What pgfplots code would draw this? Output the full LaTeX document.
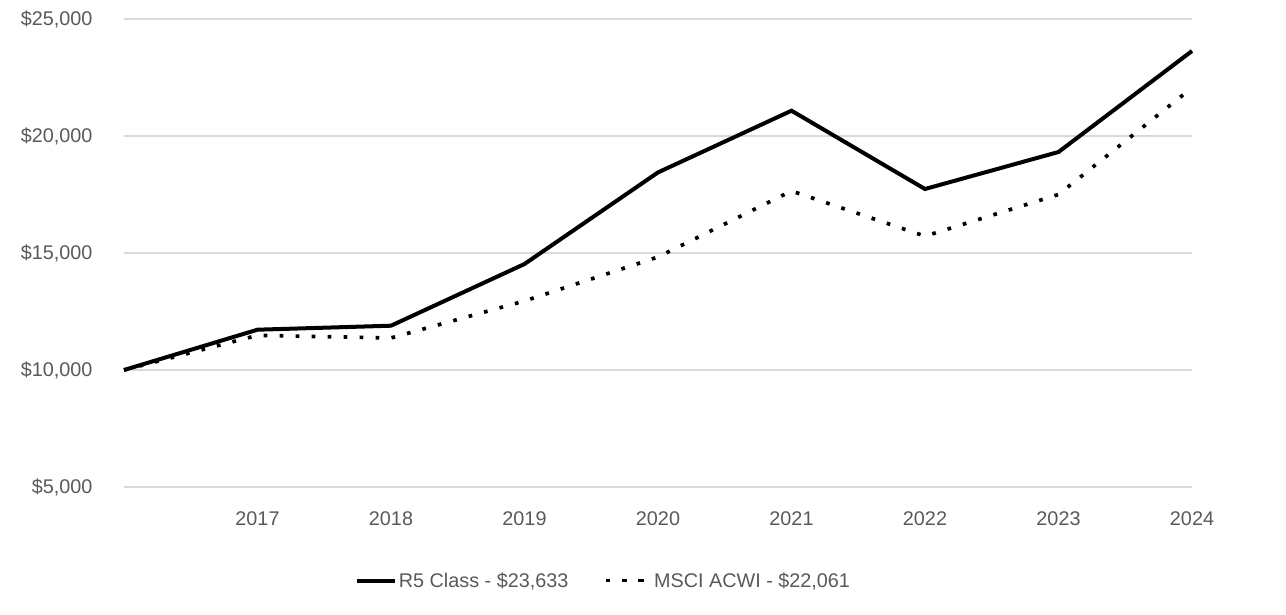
\documentclass[border=0pt]{standalone}
\usepackage{pgfplots}
\pgfplotsset{compat=1.18}
\usepackage{fontspec}
\setmainfont{Liberation Sans}
\definecolor{txt}{HTML}{595959}
\definecolor{grid}{HTML}{D9D9D9}
\begin{document}
\begin{tikzpicture}
\begin{axis}[
  scale only axis,
  width=1068pt, height=468pt,
  xmin=2016, xmax=2024,
  ymin=5000, ymax=25000,
  axis line style={draw=none},
  scaled ticks=false,
  xtick={2017,2018,2019,2020,2021,2022,2023,2024},
  xticklabels={2017,2018,2019,2020,2021,2022,2023,2024},
  ytick={5000,10000,15000,20000,25000},
  yticklabels={{\$5,000},{\$10,000},{\$15,000},{\$20,000},{\$25,000}},
  tick style={draw=none},
  ymajorgrids,
  major grid style={draw=grid, line width=1.5pt},
  ticklabel style={font=\fontsize{19.8}{23}\selectfont, text=txt},
  xticklabel style={yshift=-21pt},
  yticklabel style={xshift=-28pt},
  clip=false,
  legend columns=2,
  legend style={
    at={(rel axis cs:0.216,-0.2)}, anchor=west,
    draw=none, fill=none, inner sep=0pt,
    font=\fontsize{19.8}{23}\selectfont, text=txt,
    /tikz/every even column/.append style={column sep=34pt},
    nodes={inner sep=2pt}
  },
]
\addplot[black, line width=4pt, line join=miter,
  legend image code/.code={\draw[black, line width=4pt] (0pt,0pt) -- (38pt,0pt);}]
  coordinates {
  (2016,10000) (2017,11722) (2018,11893) (2019,14530) (2020,18444)
  (2021,21081) (2022,17735) (2023,19316) (2024,23633)};
\addlegendentry{R5 Class - \$23,633}
\addplot[black, line width=3.7pt, dash pattern=on 3.7pt off 12.3pt,
  legend image code/.code={\draw[black, line width=3.7pt, dash pattern=on 3.7pt off 13.3pt] (0pt,0pt) -- (38pt,0pt); \path (0pt,0pt) -- (44pt,0pt);}]
  coordinates {
  (2016,10000) (2017,11480) (2018,11370) (2019,12950) (2020,14830)
  (2021,17650) (2022,15720) (2023,17500) (2024,22061)};
\addlegendentry{MSCI ACWI - \$22,061}
\end{axis}
\path (-124pt,-127pt) rectangle (1162pt,487pt);
\end{tikzpicture}
\end{document}
